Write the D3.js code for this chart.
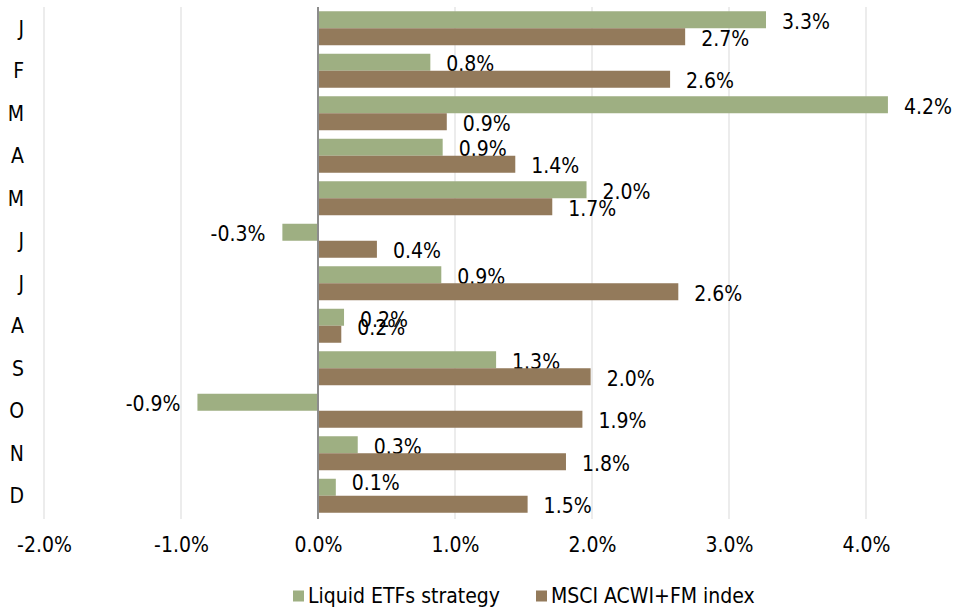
<!DOCTYPE html>
<html>
<head>
<meta charset="utf-8">
<script src="https://cdn.jsdelivr.net/npm/d3@7"></script>
<style>
  body { margin: 0; background: #fff; }
  text { font-family: "DejaVu Sans Condensed", "DejaVu Sans", Verdana, sans-serif; font-stretch: condensed; fill: #000; }
</style>
</head>
<body>
<div id="main"></div>
<script>
'use strict';

// monthly returns in % (bar lengths)
var months = ['J', 'F', 'M', 'A', 'M', 'J', 'J', 'A', 'S', 'O', 'N', 'D'];
var etfValues = [3.27, 0.82, 4.16, 0.91, 1.96, -0.26, 0.90, 0.19, 1.30, -0.88, 0.29, 0.13];
var msciValues = [2.68, 2.57, 0.94, 1.44, 1.71, 0.43, 2.63, 0.17, 1.99, 1.93, 1.81, 1.53];
var xTicks = [-2, -1, 0, 1, 2, 3, 4];
var seriesNames = ['Liquid ETFs strategy', 'MSCI ACWI+FM index'];

var width = 957;
var height = 613;
var green = '#9eaf82';
var brown = '#937a5b';
var fontSize = '21px';

// labels the original chart shifted up/down (month index-series : px)
var labelNudge = { '7-0': 1, '7-1': -8, '11-0': -6 };

var rows = months.map(function (m, i) {
	return { key: i, month: m, values: [etfValues[i], msciValues[i]] };
});

var svg = d3.select('#main').append('svg')
	.attr('width', width)
	.attr('height', height);

var x = d3.scaleLinear().domain([-2, 4]).range([44, 866]);
var y = d3.scaleBand().domain(d3.range(months.length)).range([7, 517])
	.paddingInner(0.2).paddingOuter(0.1);
var ySub = d3.scaleBand().domain([0, 1]).range([0, y.bandwidth()]);
var colors = [green, brown];

//grid lines
svg.append('g').selectAll('line').data(xTicks.filter(function (t) { return t !== 0; }))
	.enter().append('line')
	.attr('x1', function (d) { return x(d); })
	.attr('x2', function (d) { return x(d); })
	.attr('y1', 7)
	.attr('y2', 519)
	.style('stroke', '#d9d9d9')
	.style('stroke-width', 1);

//x axis labels
var xAxis = d3.axisBottom(x).tickValues(xTicks)
	.tickFormat(function (d) { return d.toFixed(1) + '%'; })
	.tickSize(0).tickPadding(0);
var xg = svg.append('g').attr('transform', 'translate(0,' + 537 + ')').call(xAxis);
xg.select('.domain').remove();
xg.selectAll('text').attr('font-size', fontSize).attr('font-family', null).attr('fill', '#000');

//month labels, right aligned
var yAxis = d3.axisLeft(y).tickFormat(function (i) { return months[i]; })
	.tickSize(0).tickPadding(0);
var yg = svg.append('g').attr('transform', 'translate(24,1)').call(yAxis);
yg.select('.domain').remove();
yg.selectAll('text').attr('font-size', fontSize).attr('font-family', null)
	.attr('fill', '#000').attr('text-anchor', 'end');

//bars
var groups = svg.append('g').selectAll('g').data(rows).enter().append('g')
	.attr('transform', function (d) { return 'translate(0,' + y(d.key) + ')'; });

var cells = groups.selectAll('g').data(function (d) {
	return d.values.map(function (v, s) { return { s: s, v: v, k: d.key + '-' + s }; });
}).enter().append('g');

cells.append('rect')
	.attr('x', function (d) { return x(Math.min(0, d.v)); })
	.attr('y', function (d) { return ySub(d.s); })
	.attr('width', function (d) { return Math.abs(x(d.v) - x(0)); })
	.attr('height', ySub.bandwidth())
	.style('fill', function (d) { return colors[d.s]; });

cells.append('text')
	.attr('x', function (d) { return d.v < 0 ? x(d.v) - 17 : x(d.v) + 16; })
	.attr('y', function (d) { return ySub(d.s) + ySub.bandwidth() / 2 + 1.5 + (labelNudge[d.k] || 0); })
	.attr('dy', '0.35em')
	.attr('text-anchor', function (d) { return d.v < 0 ? 'end' : 'start'; })
	.attr('font-size', fontSize)
	.text(function (d) { return d.v.toFixed(1) + '%'; });

//zero line
svg.append('line')
	.attr('x1', x(0)).attr('x2', x(0))
	.attr('y1', 7).attr('y2', 519)
	.style('stroke', '#8c8c8c')
	.style('stroke-width', 2);

//legend
var legend = svg.append('g').selectAll('g').data(seriesNames).enter().append('g')
	.attr('transform', function (d, i) { return 'translate(' + [293, 536][i] + ',' + 596 + ')'; });
legend.append('rect')
	.attr('x', 0).attr('y', -5.5)
	.attr('width', 11).attr('height', 11)
	.style('fill', function (d, i) { return colors[i]; });
legend.append('text')
	.attr('x', 15).attr('dy', '0.35em')
	.attr('font-size', fontSize)
	.text(function (d) { return d; });
</script>
</body>
</html>
